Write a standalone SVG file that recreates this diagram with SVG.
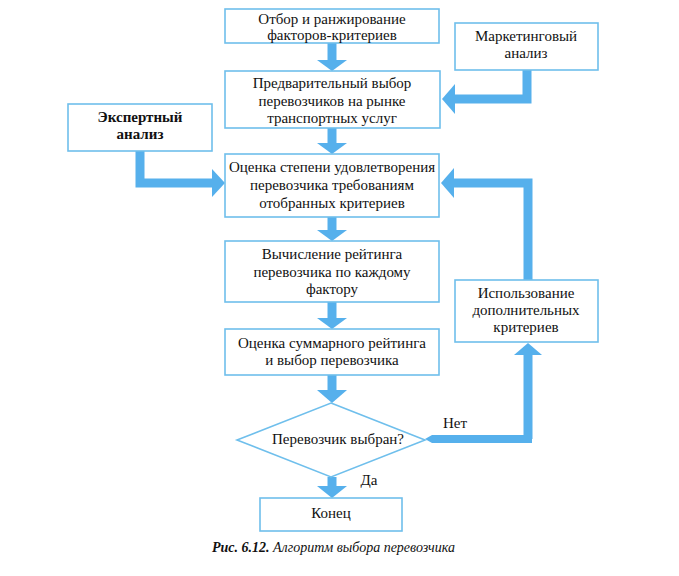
<svg xmlns="http://www.w3.org/2000/svg" width="679" height="576" viewBox="0 0 679 576">
<style>
.box{fill:#fff;stroke:#6fbfec;stroke-width:1.6}
text{font-family:'Liberation Serif','Times New Roman',serif}
.t{font-size:15px;fill:#111;text-anchor:middle}
.b{font-weight:bold}
.shaft{fill:none;stroke:#56b0ec;stroke-width:9;stroke-linejoin:miter}
.head{fill:#56b0ec}
.cap{font-size:14px;font-style:italic;fill:#111}
</style>
<rect width="679" height="576" fill="#fff"/>
<g id="connectors">
  <line class="shaft" x1="332" y1="43" x2="332" y2="62"/>
  <polygon class="head" points="317,60 347,60 332,71"/>
  <line class="shaft" x1="332" y1="128" x2="332" y2="145"/>
  <polygon class="head" points="317,143 347,143 332,154"/>
  <line class="shaft" x1="332" y1="217" x2="332" y2="232"/>
  <polygon class="head" points="317,230 347,230 332,241"/>
  <line class="shaft" x1="332" y1="302" x2="332" y2="320"/>
  <polygon class="head" points="317,318 347,318 332,329"/>
  <line class="shaft" x1="332" y1="375" x2="332" y2="392"/>
  <polygon class="head" points="317,390 347,390 332,403"/>
  <line class="shaft" x1="332" y1="477" x2="332" y2="488"/>
  <polygon class="head" points="317,486 347,486 332,498"/>
  <polyline class="shaft" points="527,70 527,99 454,99"/>
  <polygon class="head" points="455,84 455,114 442,99"/>
  <polyline class="shaft" points="140,151 140,183 214,183"/>
  <polygon class="head" points="212,169 212,197 225,183"/>
  <polygon class="head" points="425,439 432,435 532,435 532,443 432,443"/>
  <line class="shaft" x1="528" y1="439" x2="528" y2="353"/>
  <polygon class="head" points="514,355 542,355 528,343"/>
  <polyline class="shaft" points="528,280 528,183 454,183"/>
  <polygon class="head" points="454,168 454,198 441,183"/>
</g>
<g id="n1">
  <rect class="box" x="225" y="9" width="214" height="34"/>
  <text class="t" x="332" y="24">Отбор и ранжирование</text>
  <text class="t" x="332" y="40">факторов-критериев</text>
</g>
<g id="n_market">
  <rect class="box" x="455" y="23" width="143" height="47"/>
  <text class="t" x="526" y="41">Маркетинговый</text>
  <text class="t" x="526" y="58">анализ</text>
</g>
<g id="n2">
  <rect class="box" x="225" y="71" width="215" height="57"/>
  <text class="t" x="332" y="88">Предварительный выбор</text>
  <text class="t" x="332" y="106">перевозчиков на рынке</text>
  <text class="t" x="332" y="123">транспортных услуг</text>
</g>
<g id="n_expert">
  <rect class="box" x="68" y="104" width="144" height="47"/>
  <text class="t b" x="140" y="122">Экспертный</text>
  <text class="t b" x="140" y="139">анализ</text>
</g>
<g id="n3">
  <rect class="box" x="225" y="154" width="214" height="63"/>
  <text class="t" x="332" y="172">Оценка степени удовлетворения</text>
  <text class="t" x="332" y="190">перевозчика требованиям</text>
  <text class="t" x="332" y="208">отобранных критериев</text>
</g>
<g id="n4">
  <rect class="box" x="225" y="241" width="214" height="61"/>
  <text class="t" x="332" y="259">Вычисление рейтинга</text>
  <text class="t" x="332" y="277">перевозчика по каждому</text>
  <text class="t" x="332" y="294">фактору</text>
</g>
<g id="n_extra">
  <rect class="box" x="455" y="280" width="143" height="62"/>
  <text class="t" x="526" y="298">Использование</text>
  <text class="t" x="526" y="315">дополнительных</text>
  <text class="t" x="526" y="332">критериев</text>
</g>
<g id="n5">
  <rect class="box" x="225" y="329" width="214" height="46"/>
  <text class="t" x="332" y="348">Оценка суммарного рейтинга</text>
  <text class="t" x="332" y="365">и выбор перевозчика</text>
</g>
<g id="n_decision">
  <polygon class="box" points="331,403 425,440 331,477 237,440"/>
  <text class="t" x="338" y="444">Перевозчик выбран?</text>
  <text class="t" x="455" y="428">Нет</text>
  <text class="t" x="369" y="485">Да</text>
</g>
<g id="n_end">
  <rect class="box" x="260" y="498" width="142" height="33"/>
  <text class="t" x="331" y="518">Конец</text>
</g>
<text class="cap" x="212" y="552"><tspan font-weight="bold">Рис. 6.12.</tspan> Алгоритм выбора перевозчика</text>
</svg>
